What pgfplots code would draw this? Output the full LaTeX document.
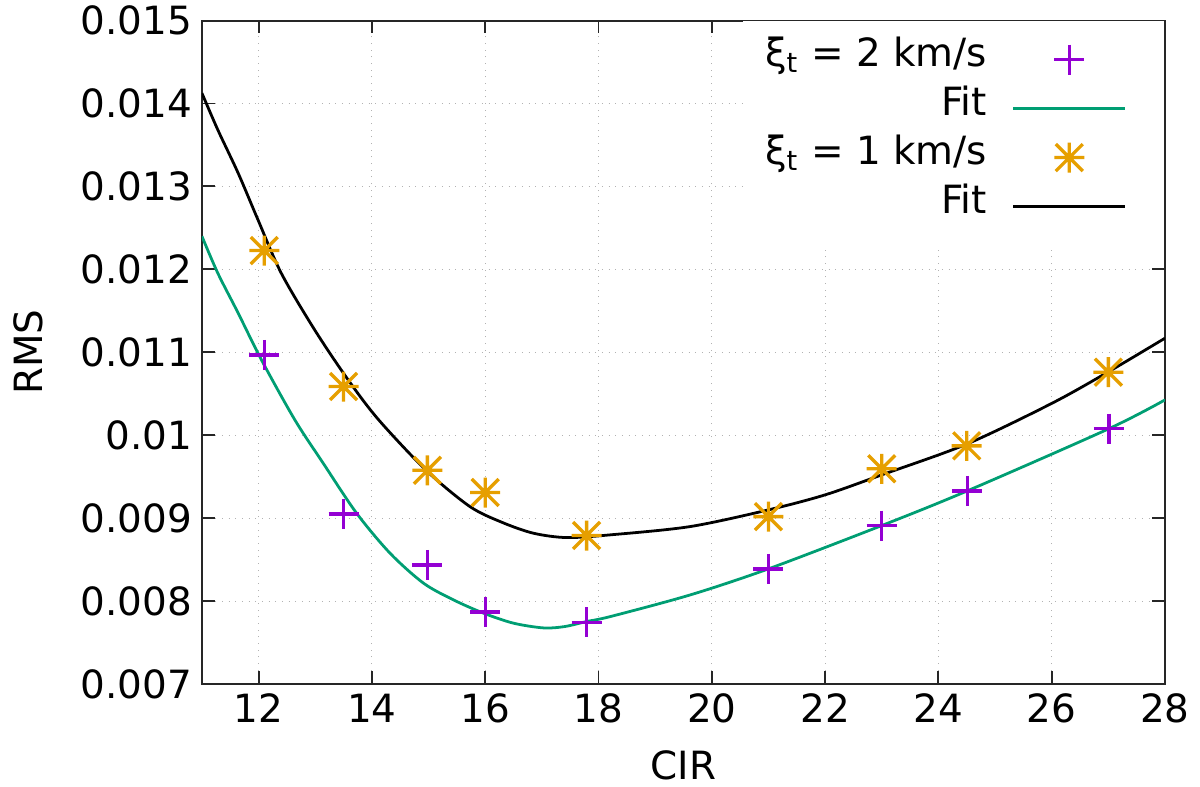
\documentclass[border=0pt]{standalone}
\usepackage{fontspec}
\setmainfont{DejaVu Sans}
\usepackage{pgfplots}
\pgfplotsset{compat=1.18}
\definecolor{gpviolet}{HTML}{9400D3}
\definecolor{gpgreen}{HTML}{009E73}
\definecolor{gporange}{HTML}{E69F00}
\pgfdeclareplotmark{gpstar}{%
  \pgfpathmoveto{\pgfqpoint{-\pgfplotmarksize}{0pt}}\pgfpathlineto{\pgfqpoint{\pgfplotmarksize}{0pt}}%
  \pgfpathmoveto{\pgfqpoint{0pt}{-\pgfplotmarksize}}\pgfpathlineto{\pgfqpoint{0pt}{\pgfplotmarksize}}%
  \pgfpathmoveto{\pgfpoint{-0.9\pgfplotmarksize}{-0.9\pgfplotmarksize}}\pgfpathlineto{\pgfpoint{0.9\pgfplotmarksize}{0.9\pgfplotmarksize}}%
  \pgfpathmoveto{\pgfpoint{-0.9\pgfplotmarksize}{0.9\pgfplotmarksize}}\pgfpathlineto{\pgfpoint{0.9\pgfplotmarksize}{-0.9\pgfplotmarksize}}%
  \pgfusepathqstroke}
\pgfplotstableread{
x y
12.10 0.01097
13.50 0.00905
14.98 0.008438
16.00 0.007868
17.79 0.007747
21.00 0.00839
23.00 0.008912
24.51 0.00933
27.01 0.01008
}\ptsA
\pgfplotstableread{
x y
12.10 0.012227
13.50 0.010588
14.98 0.009578
16.00 0.00931
17.79 0.008792
21.00 0.00902
23.00 0.009596
24.50 0.009873
27.00 0.010761
}\ptsB
\pgfplotstableread{
x y
11.00 0.012400
11.28 0.011955
11.64 0.011473
12.05 0.010910
12.64 0.010186
13.14 0.009664
13.73 0.009061
14.32 0.008579
14.91 0.008218
15.44 0.008016
15.97 0.007856
16.50 0.007735
17.03 0.007678
17.40 0.007694
17.79 0.007755
18.21 0.007815
19.62 0.008076
21.00 0.008390
23.00 0.008912
24.51 0.009330
27.01 0.010080
28.00 0.010427
}\fitA
\pgfplotstableread{
x y
11.00 0.014125
11.28 0.013683
11.64 0.013160
11.99 0.012597
12.40 0.011955
12.99 0.011271
13.58 0.010669
14.12 0.010186
14.97 0.009570
15.73 0.009141
16.30 0.008950
16.85 0.008820
17.44 0.008767
18.21 0.008800
19.62 0.008900
21.00 0.009101
22.00 0.009282
23.00 0.009523
24.51 0.009897
26.01 0.010388
27.01 0.010769
28.00 0.011171
}\fitB
\begin{document}
\begin{tikzpicture}[font=\fontsize{14}{17}\selectfont]
\begin{axis}[
  scale only axis,
  width=346.7pt, height=238.9pt,
  xmin=11, xmax=28, ymin=0.007, ymax=0.015,
  xtick={12,14,...,28},
  ytick={0.007,0.008,0.009,0.010,0.011,0.012,0.013,0.014,0.015},
  yticklabels={0.007,0.008,0.009,0.01,0.011,0.012,0.013,0.014,0.015},
  scaled y ticks=false,
  /pgf/number format/assume math mode=true,
  tick align=inside,
  major tick length=4.6pt,
  tick style={line width=0.7pt, black!85},
  axis line style={line width=0.7pt, black!85},
  minor tick num=0,
  grid=major,
  major grid style={dotted, line width=0.4pt, gray!60},
  tick label style={font=\fontsize{14}{17}\selectfont},
  every axis x label/.style={at={(axis description cs:0.5,-0.1219)},anchor=center},
  every axis y label/.style={at={(axis description cs:-0.1806,0.5)},rotate=90,anchor=center},
  xlabel={CIR},
  ylabel={RMS},
  legend plot pos=right,
  legend cell align=right,
  legend image code/.code={\draw[mark repeat=2,mark phase=2,#1] plot coordinates {(0pt,0pt) (20.15pt,0pt) (40.3pt,0pt)}; \path (45.9pt,0pt);},
  legend style={at={(axis cs:28,0.015)}, anchor=north east, draw=none, fill=white,
    inner xsep=8pt, inner ysep=5pt, row sep=0pt,
    font=\fontsize{14}{17}\selectfont,
    nodes={inner sep=0pt, text height=11.35pt, text depth=6.3pt},
    /tikz/every odd column/.style={column sep=9pt}},
]
\addplot[only marks, color=gpviolet, mark=+, mark size=5.4pt, mark options={line width=1.2pt}] table[x=x,y=y] {\ptsA};
\addlegendentry{ξ\textsubscript{t} = 2 km/s}
\addplot[color=gpgreen, line width=1pt, smooth, tension=0.5, no marks] table[x=x,y=y] {\fitA};
\addlegendentry{Fit}
\addplot[only marks, color=gporange, mark=gpstar, mark size=5.4pt, mark options={line width=1.2pt}] table[x=x,y=y] {\ptsB};
\addlegendentry{ξ\textsubscript{t} = 1 km/s}
\addplot[color=black, line width=1pt, smooth, tension=0.5, no marks] table[x=x,y=y] {\fitB};
\addlegendentry{Fit}
\end{axis}
\pgfresetboundingbox
\path (-72.7pt,-36.97pt) rectangle (359.3pt,246.3pt);
\end{tikzpicture}
\end{document}
